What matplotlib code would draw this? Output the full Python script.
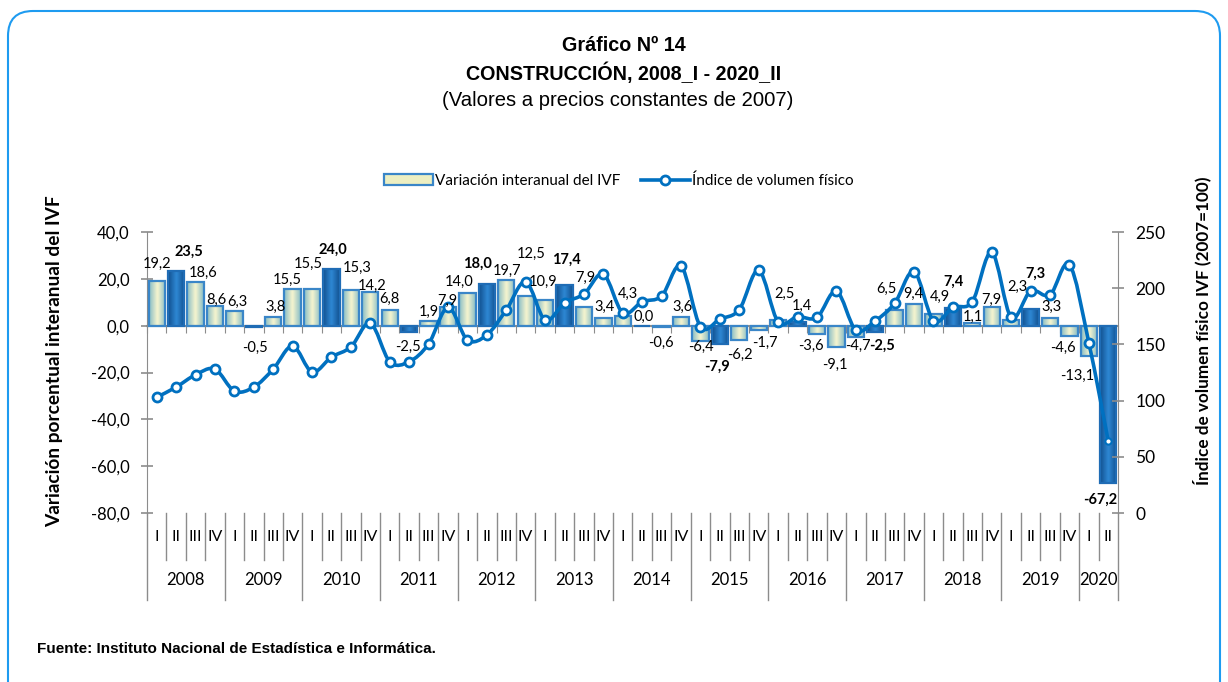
import numpy as np
import matplotlib
matplotlib.use('Agg')
import matplotlib.pyplot as plt
import matplotlib.transforms as mtransforms
from matplotlib.path import Path
from matplotlib.patches import PathPatch, Patch, FancyBboxPatch
from matplotlib.lines import Line2D
from matplotlib.colors import LinearSegmentedColormap

# datos
anios = ['2008', '2009', '2010', '2011', '2012', '2013', '2014',
         '2015', '2016', '2017', '2018', '2019', '2020']
trimestres = ['I', 'II', 'III', 'IV'] * 12 + ['I', 'II']

variacion = [19.2, 23.5, 18.6, 8.6,
             6.3, -0.5, 3.8, 15.5,
             15.5, 24.0, 15.3, 14.2,
             6.8, -2.5, 1.9, 7.9,
             14.0, 18.0, 19.7, 12.5,
             10.9, 17.4, 7.9, 3.4,
             4.3, 0.0, -0.6, 3.6,
             -6.4, -7.9, -6.2, -1.7,
             2.5, 1.4, -3.6, -9.1,
             -4.7, -2.5, 6.5, 9.4,
             4.9, 7.4, 1.1, 7.9,
             2.3, 7.3, 3.3, -4.6,
             -13.1, -67.2]

indice = [103, 112, 123, 128,
          108.5, 112, 128, 148.6,
          125.5, 138.8, 147.7, 169,
          134.6, 134.6, 150.4, 183,
          154, 158.4, 180.6, 205.8,
          171.7, 187, 194.8, 212.6,
          178, 188, 193, 219.7,
          165.8, 172.6, 181, 216,
          170, 174.7, 174, 197.5,
          162.8, 171, 186.6, 214.8,
          171, 183, 188, 232,
          174, 197.5, 194, 221,
          151.5, 64]

# etiquetas en negrita (periodo)
negritas = ['2008_II', '2010_II', '2012_II', '2013_II', '2015_II',
            '2017_II', '2018_II', '2019_II', '2020_II']

# desplazamiento de cada etiqueta (px) respecto al extremo de la barra
pos_etiquetas = [(0, 17), (13, 19), (7.5, 9.5), (1, 6),
                 (2.6, 9), (1, -21), (2, 10), (-5.6, 9),
                 (-4, 25), (1.5, 20), (6, 22), (2, 7),
                 (0, 11), (-1, -15), (0, 9), (-1, 6.5),
                 (-8, 11), (-9, 20), (1, 9), (6, 43),
                 (-2, 18.5), (1.5, 25), (1, 29.5), (1.6, 11),
                 (5, 22), (1, 9), (-0.6, -16), (2, 10),
                 (0, -6), (-3, -22.5), (0.7, -14.5), (6, -13),
                 (6, 26), (4, 17), (-6, -12), (-1.4, -18),
                 (2, -9), (7, -14), (-8, 22), (-1, 10),
                 (6.5, 17.5), (1, 27), (0.6, 6.4), (0, 7.5),
                 (6, 33.6), (5, 35), (2, 11), (-6.5, -11),
                 (-12, -20), (-8, -17)]

fuente = ['Lato', 'DejaVu Sans']
plt.rcParams['font.family'] = fuente

def fmt(v):
    return f'{v:.1f}'.replace('.', ',')

n = len(variacion)
x = np.arange(n)
periodos = [anios[i // 4] + '_' + trimestres[i] for i in range(n)]

fig = plt.figure(figsize=(12.28, 6.82), dpi=100)
ax = fig.add_axes([0.1197, 0.2478, 0.7907, 0.412])
ax2 = ax.twinx()

# marco redondeado
marco = FancyBboxPatch((8, -30), 1212, 701, boxstyle='round,pad=0,rounding_size=25',
                       transform=mtransforms.IdentityTransform(), fill=False,
                       edgecolor='#1E9BF0', linewidth=1.5)
fig.patches.append(marco)

# barras con degradado
ancho = 0.84
gris = '#8C8C8C'
for i, v in enumerate(variacion):
    oscuro = trimestres[i] == 'II'
    borde = '#1F6CB5' if oscuro else '#3A86C8'
    c_ext = '#11508F' if oscuro else '#86BCC6'
    c_cen = '#2E88D4' if oscuro else '#F7F5CF'
    rect = ax.bar(x[i], v, width=ancho, color='none', edgecolor=borde,
                  linewidth=1.6, zorder=3)[0]
    t = 1 - np.abs(np.linspace(-1, 1, 64))
    cmap = LinearSegmentedColormap.from_list('g', [c_ext, c_cen])
    x0 = rect.get_x()
    img = ax.imshow(t[np.newaxis, :], extent=(x0, x0 + ancho, 0, v if v != 0 else 0.3),
                    aspect='auto', cmap=cmap, vmin=0, vmax=1, zorder=2,
                    interpolation='bicubic')
    img.set_clip_path(rect)

ax.set_xlim(-0.5, n - 0.5)
ax.set_ylim(-80, 40)
ax.set_aspect('auto')
ax.set_yticks(np.arange(-80, 41, 20))
ax.set_yticklabels([fmt(v) for v in np.arange(-80, 41, 20)], fontsize=12)

ax.spines['top'].set_visible(False)
ax.spines['right'].set_visible(False)
ax.spines['left'].set_color(gris)
ax.spines['bottom'].set_position(('data', 0))
ax.spines['bottom'].set_color(gris)
ax.spines['bottom'].set_linewidth(1.5)
ax.set_xticks(np.arange(-0.5, n, 1))
ax.tick_params(axis='x', direction='out', length=5, color=gris, labelbottom=False)
ax.tick_params(axis='y', direction='inout', length=9, color=gris, width=1.2, pad=8)

ax2.set_ylim(0, 250)
ax2.set_yticks(np.arange(0, 251, 50))
ax2.tick_params(axis='y', direction='inout', length=9, color=gris, width=1.2,
                labelsize=12.5, pad=8)
for s in ['top', 'left', 'bottom']:
    ax2.spines[s].set_visible(False)
ax2.spines['right'].set_color(gris)

# linea suavizada (bezier tipo catmull-rom)
pts = np.column_stack([x, indice]).astype(float)
verts = [pts[0]]
codes = [Path.MOVETO]
for i in range(n - 1):
    p0 = pts[i - 1] if i > 0 else pts[i]
    p1, p2 = pts[i], pts[i + 1]
    p3 = pts[i + 2] if i + 2 < n else pts[i + 1]
    verts += [p1 + (p2 - p0) / 6, p2 - (p3 - p1) / 6, p2]
    codes += [Path.CURVE4] * 3
ax2.add_patch(PathPatch(Path(verts, codes), fill=False, edgecolor='#0070C0',
                        linewidth=2.6, zorder=4))
ax2.plot(x[:-1], indice[:-1], 'o', color='#0070C0', mfc='white', mew=2,
         markersize=6.5, zorder=5)
ax2.plot(x[-1:], indice[-1:], 'o', color='#0070C0', mfc='white', mew=1.5,
         markersize=4.5, zorder=5)

# etiquetas de datos
for i, v in enumerate(variacion):
    peso = 'bold' if periodos[i] in negritas else 'normal'
    dx, dy = pos_etiquetas[i]
    ax2.annotate(fmt(v), (x[i], v), xycoords=ax.transData, xytext=(dx, dy),
                 textcoords='offset pixels', ha='center', va='center',
                 fontsize=10.5, fontweight=peso, zorder=6)

# eje de categorias de dos niveles
tr = mtransforms.blended_transform_factory(ax.transData, ax.transAxes)
for i in range(n + 1):
    xb = i - 0.5
    if i % 4 == 0 or i == n:
        ax.plot([xb, xb], [0, -0.31], color=gris, lw=1, transform=tr, clip_on=False)
    else:
        ax.plot([xb, xb], [0, -0.167], color=gris, lw=1, transform=tr, clip_on=False)
for i in range(n):
    ax.text(x[i], -0.085, trimestres[i], transform=tr, ha='center', va='center',
            fontsize=11.5)
for k, a in enumerate(anios):
    fin = min(4 * k + 3, n - 1)
    ax.text((4 * k + fin) / 2, -0.238, a, transform=tr, ha='center', va='center',
            fontsize=12)

fig.text(0.0448, 0.4707, 'Variación porcentual interanual del IVF', rotation=90,
         ha='center', va='center', fontsize=13.8, fontweight='bold')
fig.text(0.9788, 0.5147, 'Índice de volumen físico IVF (2007=100)', rotation=90,
         ha='center', va='center', fontsize=12.3, fontweight='bold')

# titulos
tit = ['Liberation Sans', 'DejaVu Sans']
fig.text(0.508, 0.934, 'Gráfico Nº 14', ha='center', va='center', fontsize=14.2,
         fontweight='bold', family=tit)
fig.text(0.508, 0.893, 'CONSTRUCCIÓN, 2008_I - 2020_II', ha='center', va='center',
         fontsize=14.2, fontweight='bold', family=tit)
fig.text(0.503, 0.852, '(Valores a precios constantes de 2007)', ha='center',
         va='center', fontsize=14.6, family=tit)
fig.text(0.03, 0.048, 'Fuente: Instituto Nacional de Estadística e Informática.',
         ha='left', va='center', fontsize=11, fontweight='bold', family=tit)

# leyenda
h1 = Patch(facecolor='#EDEFC2', edgecolor='#3A86C8', linewidth=1.6)
h2 = Line2D([], [], color='#0070C0', lw=2.6, marker='o', mfc='white', mew=2,
            markersize=6.5)
fig.legend([h1, h2], ['Variación interanual del IVF', 'Índice de volumen físico'],
           loc='center', bbox_to_anchor=(0.504, 0.735), ncol=2, frameon=False,
           fontsize=11, handlelength=3.2, handletextpad=0.15, columnspacing=1.3)

fig.savefig('out.png', dpi=100)
